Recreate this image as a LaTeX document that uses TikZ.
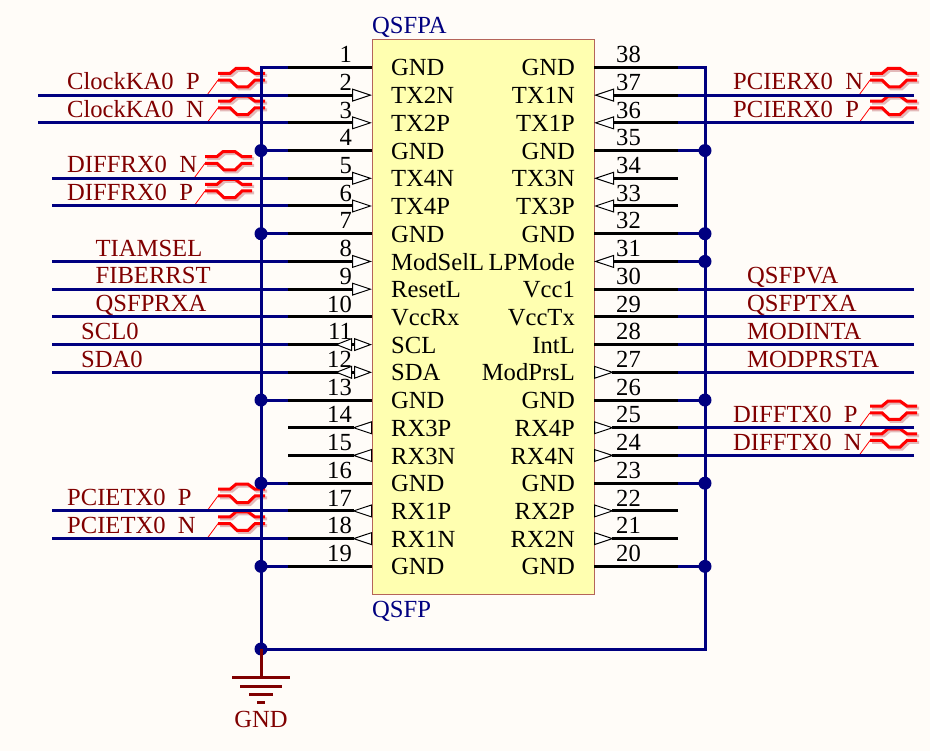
\documentclass[tikz,border=0pt]{standalone}
\usepackage{fontspec}
\setmainfont{Liberation Serif}
\usetikzlibrary{arrows.meta}
\definecolor{paper}{HTML}{FFFCF8}
\definecolor{chip}{HTML}{FFFFB0}
\definecolor{chipline}{HTML}{B5655A}
\definecolor{wire}{HTML}{000080}
\definecolor{netred}{HTML}{800000}
\definecolor{pairshadow}{HTML}{E3B9B9}
\newcommand{\rowy}[1]{(67.4+27.72*(#1-1))}
\tikzset{
  txt/.style={inner sep=0pt, font=\fontsize{24.6}{25}\selectfont},
  pinname/.style={txt, text=black},
  netname/.style={txt, text=netred, anchor=base west},
  net/.style={draw=wire, line width=3pt},
  pinplain/.style={draw=black, line width=3pt},
  pinin/.style={pinplain, -{Triangle[length=20pt, width=13pt, line width=1pt, fill=white]}},
  pinout/.style={pinplain, -{Triangle[reversed, length=20pt, width=13pt, line width=1pt, fill=white]}},
  pinbi/.style={pinplain, -{Triangle[reversed, length=17pt, width=13pt, line width=1pt, fill=white, sep=2pt]Triangle[length=18pt, width=13pt, line width=1pt, fill=white]}},
  dot/.style={circle, fill=wire, inner sep=0pt, minimum size=13pt},
  diffpair/.pic={
    \foreach \c/\d in {pairshadow/2, red/0} {
      \draw[\c, line width=3pt, shift={(\d,\d)}] (0,-21.7) -- (12,-21.7) -- (18,-26.7) -- (30,-26.7) -- (37,-21.7) -- (47,-21.7);
      \draw[\c, line width=3pt, shift={(\d,\d)}] (0,-15) -- (12,-15) -- (19,-8.3) -- (30,-8.3) -- (37,-15) -- (47,-15);
    }
    \draw[red, line width=.8pt] (0,-15) -- (-11,0);
  }
}
\begin{document}
\begin{tikzpicture}[x=1pt, y=-1pt]
\fill[paper] (0,0) rectangle (930,751);
\useasboundingbox (0,0) rectangle (930,751);
\node[draw=chipline, fill=chip, line width=1pt, minimum width=222pt, minimum height=554pt, inner sep=0pt] (U) at (483,317) {};
\node[txt, text=wire, anchor=base west] (Uref) at (372,34) {QSFPA};
\node[txt, text=wire, anchor=base west] (Uval) at (372,617) {QSFP};
% bus corners
\coordinate (TL) at (261,{\rowy{1}});
\coordinate (TR) at (705,{\rowy{1}});
\coordinate (BL) at (261,649);
\coordinate (BR) at (705,649);
% pin end points
\foreach \r in {1,...,19} {
  \coordinate (PL\r) at (372,{\rowy{\r}});
  \coordinate (SL\r) at (288,{\rowy{\r}});
  \coordinate (JL\r) at (261,{\rowy{\r}});
  \coordinate (PR\r) at (594,{\rowy{\r}});
  \coordinate (SR\r) at (678,{\rowy{\r}});
  \coordinate (JR\r) at (705,{\rowy{\r}});
}
% differential marks go under the wires
\foreach \n/\x/\r in {dKP/218/2, dKN/218/3, dFN/205/5, dFP/205/6, dTP/218/17, dTN/218/18, dRN/870/2, dRP/870/3, dSP/870/14, dSN/870/15}
  \pic (\n) at (\x,{\rowy{\r}}) {diffpair};
% left nets
\foreach \r/\x/\lx/\t in {2/38/67/ClockKA0\hspace{.5em}P, 3/38/67/ClockKA0\hspace{.5em}N, 5/52/67/DIFFRX0\hspace{.5em}N, 6/52/67/DIFFRX0\hspace{.5em}P, 8/52/95.5/TIAMSEL, 9/52/95.5/FIBERRST, 10/52/95.5/QSFPRXA, 11/52/81/SCL0, 12/52/81/SDA0, 17/52/67/PCIETX0\hspace{.5em}P, 18/52/67/PCIETX0\hspace{.5em}N} {
  \coordinate (WL\r) at (\x,{\rowy{\r}});
  \path[net] (WL\r) edge (SL\r);
  \node[netname] (NL\r) at (\lx,{\rowy{\r}-5.3}) {\t};
}
% right nets
\foreach \r/\lx/\t in {2/733/PCIERX0\hspace{.5em}N, 3/733/PCIERX0\hspace{.5em}P, 9/747/QSFPVA, 10/747/QSFPTXA, 11/747/MODINTA, 12/747/MODPRSTA, 14/733/DIFFTX0\hspace{.5em}P, 15/733/DIFFTX0\hspace{.5em}N} {
  \coordinate (WR\r) at (914,{\rowy{\r}});
  \path[net] (WR\r) edge (SR\r);
  \node[netname] (NR\r) at (\lx,{\rowy{\r}-5.3}) {\t};
}
% ground bus
\draw[net] (SL1) -- (TL) -- (BL) -- (BR) -- (TR) -- (SR1);
\foreach \r in {4,7,13,16,19} {
  \path[net] (JL\r) edge (SL\r);
  \node[dot] (DL\r) at (JL\r) {};
}
\foreach \r in {4,7,8,13,16,19} {
  \path[net] (JR\r) edge (SR\r);
  \node[dot] (DR\r) at (JR\r) {};
}
% pins
\foreach \r/\n/\t/\k in {1/1/GND/pinplain, 2/2/TX2N/pinin, 3/3/TX2P/pinin, 4/4/GND/pinplain, 5/5/TX4N/pinin, 6/6/TX4P/pinin, 7/7/GND/pinplain, 8/8/ModSelL/pinin, 9/9/ResetL/pinin, 10/10/VccRx/pinplain, 11/11/SCL/pinbi, 12/12/SDA/pinbi, 13/13/GND/pinplain, 14/14/RX3P/pinout, 15/15/RX3N/pinout, 16/16/GND/pinplain, 17/17/RX1P/pinout, 18/18/RX1N/pinout, 19/19/GND/pinplain} {
  \draw[\k] (SL\r) -- (PL\r);
  \node[pinname, anchor=base east] (nL\r) at (352,{\rowy{\r}-4.8}) {\n};
  \node[pinname, anchor=base west] (tL\r) at (391,{\rowy{\r}+8.6}) {\t};
}
\foreach \r/\n/\t/\k in {1/38/GND/pinplain, 2/37/TX1N/pinin, 3/36/TX1P/pinin, 4/35/GND/pinplain, 5/34/TX3N/pinin, 6/33/TX3P/pinin, 7/32/GND/pinplain, 8/31/LPMode/pinin, 9/30/Vcc1/pinplain, 10/29/VccTx/pinplain, 11/28/IntL/pinplain, 12/27/ModPrsL/pinout, 13/26/GND/pinplain, 14/25/RX4P/pinout, 15/24/RX4N/pinout, 16/23/GND/pinplain, 17/22/RX2P/pinout, 18/21/RX2N/pinout, 19/20/GND/pinplain} {
  \draw[\k] (SR\r) -- (PR\r);
  \node[pinname, anchor=base west] (nR\r) at (616,{\rowy{\r}-4.8}) {\n};
  \node[pinname, anchor=base east] (tR\r) at (575,{\rowy{\r}+8.6}) {\t};
}
% ground symbol
\coordinate (G0) at (261,677);
\node[dot] (DB) at (BL) {};
\draw[netred, line width=3pt] (BL) -- (G0);
\foreach \n/\yy/\w in {G1/677/29, G2/686/21, G3/694/12, G4/702/4}
  \draw[netred, line width=3pt] (261-\w,\yy) -- (261+\w,\yy);
\node[txt, text=netred, anchor=base] (Gname) at (261,727) {GND};
\end{tikzpicture}
\end{document}
